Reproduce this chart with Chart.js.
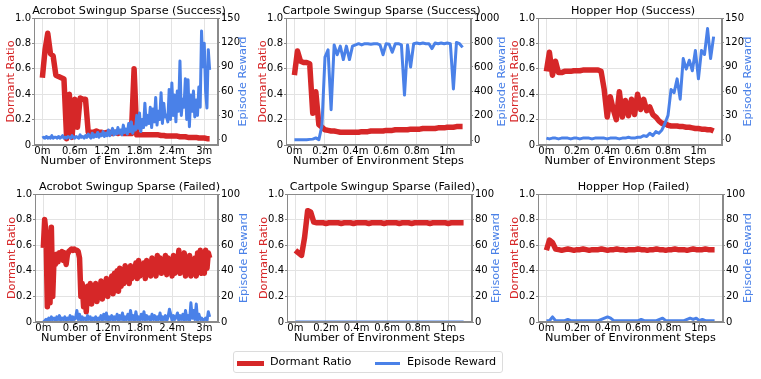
<!DOCTYPE html>
<html>
<head>
<meta charset="utf-8">
<script src="https://cdn.jsdelivr.net/npm/chart.js@4/dist/chart.umd.min.js"></script>
<style>
  body { margin: 0; background: #fff; width: 761px; height: 379px; position: relative; overflow: hidden; font-family: "DejaVu Sans", sans-serif; }
  canvas { position: absolute; }
  #legend { position: absolute; left: 233px; top: 351px; width: 268px; height: 20px; border: 1px solid #dcdcdc; border-radius: 3px; font-size: 11.2px; color: #000; }
  #legend .sw { position: absolute; top: 9px; height: 5px; }
  #legend .tx { position: absolute; top: 3px; white-space: nowrap; }
</style>
</head>
<body>
<canvas id="p1" width="258" height="171" style="left:0px;top:0px"></canvas>
<canvas id="p2" width="259" height="171" style="left:252px;top:0px"></canvas>
<canvas id="p3" width="258" height="171" style="left:504px;top:0px"></canvas>
<canvas id="p4" width="257" height="172" style="left:1px;top:176px"></canvas>
<canvas id="p5" width="259" height="172" style="left:253px;top:176px"></canvas>
<canvas id="p6" width="259" height="172" style="left:504px;top:176px"></canvas>
<div id="legend">
  <div class="sw" style="left:3px;width:27px;background:#d62728"></div>
  <div class="tx" style="left:36px">Dormant Ratio</div>
  <div class="sw" style="left:141px;width:25px;height:3px;top:10px;background:#4a81e8"></div>
  <div class="tx" style="left:173px">Episode Reward</div>
</div>
<script>
// sampling grids (millions of env steps)
const longSteps = Array.from({length: 63}, (_, i) => +(i * 0.05).toFixed(3));      // 0 .. 3.1
const longFineSteps = Array.from({length: 125}, (_, i) => +(i * 0.025).toFixed(3)); // 0 .. 3.1
const shortSteps = Array.from({length: 56}, (_, i) => +(i * 0.02).toFixed(3));     // 0 .. 1.1

const longTicks = [0, 0.6, 1.2, 1.8, 2.4, 3];
const longTickLabels = ['0m', '0.6m', '1.2m', '1.8m', '2.4m', '3m'];
const shortTicks = [0, 0.2, 0.4, 0.6, 0.8, 1];
const shortTickLabels = ['0m', '0.2m', '0.4m', '0.6m', '0.8m', '1m'];

const ratioTicks = [0, 0.2, 0.4, 0.6, 0.8, 1.0];
const ratioTickLabels = ['0', '0.2', '0.4', '0.6', '0.8', '1.0'];
const reward150Ticks = [0, 30, 60, 90, 120, 150];
const reward1000Ticks = [0, 200, 400, 600, 800, 1000];
const reward100Ticks = [0, 20, 40, 60, 80, 100];

// Acrobot Swingup Sparse (Success) - ratio on longSteps, reward on longFineSteps
const acroSuccessRatio = [
  0.53, 0.75, 0.88, 0.72, 0.70, 0.55, 0.54, 0.53, 0.52, 0.05, 0.40, 0.06, 0.36, 0.14, 0.37, 0.36, 0.36, 0.10, 0.10,
  0.10, 0.11, 0.10, 0.10, 0.09, 0.10, 0.10, 0.09, 0.10, 0.09, 0.10, 0.09, 0.09, 0.09, 0.09,
  0.60, 0.08,
  0.08, 0.08, 0.08, 0.08, 0.08, 0.08, 0.08, 0.08, 0.075, 0.075, 0.07, 0.07, 0.07, 0.07, 0.07,
  0.065, 0.065, 0.065, 0.06, 0.06, 0.06, 0.06, 0.055, 0.055, 0.055, 0.05, 0.05
];
const acroSuccessReward = [
  2, 3, 2, 4, 2, 3, 2, 5, 2, 3, 3, 2, 4, 2, 3, 5, 2, 3, 2, 4, 3, 2, 5, 3, 2, 4, 3, 2, 6, 3, 4, 2, 5,
  3, 7, 4, 2, 8, 3, 6, 4, 9, 3, 7, 5, 10, 4, 8, 5,
  12, 5, 9, 14, 6, 11, 7, 15, 8, 12, 6, 18, 9, 13, 7, 20,
  10, 22, 8, 16, 12, 30, 14, 33, 10, 25, 15, 45, 18, 30, 20, 40,
  15, 38, 22, 52, 18, 35, 25, 58, 20, 45, 28, 30, 22, 62, 25, 70,
  30, 55, 22, 60, 35, 97, 30, 50, 40, 75, 25, 74, 16, 55, 35, 60,
  28, 49, 30, 65, 40, 134, 90, 119, 60, 39, 111, 86
];

// Cartpole Swingup Sparse (Success)
const cartSuccessRatio = [
  0.55, 0.74, 0.66, 0.65, 0.65, 0.64, 0.25, 0.42, 0.16, 0.14, 0.12, 0.115, 0.11,
  0.11, 0.105, 0.10, 0.10, 0.10, 0.10, 0.10, 0.10, 0.10, 0.105, 0.105, 0.105,
  0.11, 0.11, 0.11, 0.11, 0.11, 0.115, 0.115, 0.115, 0.12, 0.12, 0.12, 0.12, 0.12,
  0.125, 0.125, 0.125, 0.125, 0.13, 0.13, 0.13, 0.13, 0.13, 0.135, 0.135, 0.135,
  0.14, 0.14, 0.14, 0.145, 0.145, 0.145
];
const cartSuccessReward = [
  5, 5, 5, 5, 5, 8, 10, 20, 5, 120,
  680, 740, 250, 780, 700, 770, 660, 770, 660, 770,
  780, 790, 780, 790, 790, 785, 790, 790, 780, 700,
  790, 785, 720, 790, 790, 780, 370, 780, 600, 790,
  795, 790, 795, 790, 790, 750, 795, 790, 795, 790,
  795, 790, 420, 800, 790, 760
];

// Hopper Hop (Success)
const hopperSuccessRatio = [
  0.58, 0.73, 0.55, 0.66, 0.57, 0.57, 0.58, 0.58,
  0.58, 0.585, 0.585, 0.585, 0.59, 0.59, 0.59, 0.59, 0.59, 0.59, 0.58,
  0.44, 0.22, 0.38, 0.28, 0.20, 0.42, 0.22, 0.35, 0.23, 0.36, 0.24,
  0.40, 0.28, 0.36, 0.27, 0.30, 0.24, 0.22, 0.19, 0.17, 0.17,
  0.155, 0.15, 0.15, 0.15, 0.145, 0.145, 0.14, 0.14, 0.135, 0.13,
  0.13, 0.125, 0.125, 0.12, 0.12, 0.11
];
const hopperSuccessReward = [
  2, 1, 2, 2, 1, 2, 2, 2, 1, 2, 2, 1, 2, 2, 2, 1, 2, 2, 2, 2, 1, 2, 2, 2, 1, 2, 2, 3, 2, 2, 3,
  3, 5, 4, 8, 5, 10, 8, 12, 20, 30,
  62, 58, 75, 50, 100, 87, 98, 85, 110, 75,
  110, 105, 137, 100, 127
];

// Acrobot Swingup Sparse (Failed) - both on longFineSteps
const acroFailRatio = [
  0.58, 0.80, 0.70, 0.12, 0.60, 0.15, 0.74, 0.20, 0.50, 0.45,
  0.53, 0.47, 0.54, 0.50, 0.55, 0.48, 0.54, 0.45, 0.53, 0.55,
  0.56, 0.57, 0.56, 0.57, 0.56, 0.56, 0.55, 0.50, 0.20, 0.30,
  0.12, 0.25, 0.08, 0.28, 0.15, 0.30, 0.14, 0.26, 0.18, 0.30,
  0.16, 0.28, 0.20, 0.32, 0.18, 0.30, 0.22, 0.34, 0.20, 0.32,
  0.24, 0.36, 0.22, 0.38, 0.26, 0.40, 0.24, 0.42, 0.28, 0.40,
  0.30, 0.44, 0.32, 0.42, 0.30, 0.44, 0.34, 0.42, 0.36, 0.46,
  0.34, 0.48, 0.36, 0.44, 0.38, 0.46, 0.34, 0.48, 0.38, 0.46,
  0.36, 0.50, 0.38, 0.48, 0.36, 0.52, 0.40, 0.50, 0.38, 0.48,
  0.40, 0.52, 0.37, 0.50, 0.40, 0.48, 0.36, 0.52, 0.38, 0.50,
  0.40, 0.56, 0.38, 0.52, 0.42, 0.54, 0.36, 0.48, 0.40, 0.52,
  0.36, 0.48, 0.38, 0.50, 0.36, 0.54, 0.40, 0.56, 0.38, 0.54,
  0.38, 0.56, 0.42, 0.54, 0.50
];
const acroFailReward = [
  0, 1, 2, 1, 3, 1, 4, 2, 3, 1, 4, 2, 5, 1, 3, 2, 4, 1, 3, 2, 5, 1, 4, 2, 3,
  9, 2, 6, 1, 4, 2, 3, 1, 5, 2, 4, 1, 3, 2, 4, 1, 3, 2, 5, 1, 6, 2, 7, 1, 4,
  2, 5, 1, 4, 2, 6, 1, 5, 2, 7, 1, 4, 2, 6, 1, 9, 2, 5, 1, 8, 2, 4, 1, 6, 2,
  8, 1, 5, 2, 4, 1, 6, 2, 5, 1, 4, 2, 7, 1, 4, 2, 5, 1, 4, 10, 6, 1, 5, 2, 4,
  7, 1, 5, 2, 6, 1, 9, 2, 5, 1, 15, 3, 9, 2, 14, 1, 6, 2, 3, 1, 2, 3, 1, 8, 4
];

// Cartpole Swingup Sparse (Failed)
const cartFailRatio = [
  0.56, 0.54, 0.52, 0.66, 0.87, 0.86, 0.78,
  0.775, 0.775, 0.775, 0.77, 0.775, 0.775, 0.775,
  0.775, 0.77, 0.775, 0.775, 0.775, 0.77, 0.775,
  0.775, 0.775, 0.775, 0.77, 0.775, 0.775, 0.775,
  0.775, 0.77, 0.775, 0.775, 0.775, 0.775, 0.77,
  0.775, 0.775, 0.775, 0.77, 0.775, 0.775, 0.775,
  0.775, 0.775, 0.77, 0.775, 0.775, 0.775, 0.775,
  0.775, 0.77, 0.775, 0.775, 0.775, 0.775, 0.775
];
const cartFailReward = [
  0, 0, 0, 0, 0, 0, 0, 0, 0, 0, 0, 0, 0, 0,
  0, 0, 0, 0, 0, 0, 0, 0, 0, 0, 0, 0, 0, 0,
  0, 0, 0, 0, 0, 0, 0, 0, 0, 0, 0, 0, 0, 0,
  0, 0, 0, 0, 0, 0, 0, 0, 0, 0, 0, 0, 0, 0
];

// Hopper Hop (Failed)
const hopperFailRatio = [
  0.56, 0.64, 0.62, 0.57,
  0.565, 0.56, 0.565, 0.57, 0.565, 0.56, 0.565, 0.565, 0.57, 0.565, 0.56, 0.565, 0.565,
  0.565, 0.57, 0.565, 0.56, 0.565, 0.565, 0.57, 0.565, 0.565, 0.56, 0.565, 0.565,
  0.565, 0.57, 0.565, 0.565, 0.56, 0.565, 0.565, 0.57, 0.565, 0.565, 0.56, 0.565,
  0.565, 0.57, 0.565, 0.565, 0.565, 0.56, 0.565, 0.57, 0.565, 0.565, 0.565, 0.57, 0.565, 0.565, 0.565
];
const hopperFailReward = [
  1, 1, 4, 1, 1, 1, 1, 2, 1, 1,
  1, 1, 1, 1, 1, 1, 1, 1, 2, 3,
  4, 3, 1, 1, 1, 1, 1, 1, 1, 1,
  1, 2, 1, 1, 1, 1, 1, 2, 3, 1,
  1, 1, 1, 1, 1, 1, 2, 3, 2, 3,
  1, 2, 1, 1, 1, 1
];

const RED = '#d62728';
const BLUE = '#4a81e8';
const GRID = '#e3e3e3';
const FRAME = '#8a8a8a';
const FONT = '"DejaVu Sans", sans-serif';

Chart.defaults.font.family = FONT;
Chart.defaults.color = '#000';

// frame around the plot + matplotlib-style right label (reads bottom to top)
const framePlugin = {
  id: 'frame',
  afterDraw(chart, args, opts) {
    const {ctx, chartArea: a} = chart;
    ctx.save();
    ctx.strokeStyle = FRAME;
    ctx.lineWidth = 1;
    ctx.strokeRect(Math.round(a.left) + 0.5, Math.round(a.top) + 0.5, Math.round(a.right - a.left) - 1, Math.round(a.bottom - a.top) - 1);
    ctx.translate(a.right + opts.gap, (a.top + a.bottom) / 2);
    ctx.rotate(-Math.PI / 2);
    ctx.fillStyle = BLUE;
    ctx.font = '11.3px ' + FONT;
    ctx.textAlign = 'center';
    ctx.textBaseline = 'middle';
    ctx.fillText('Episode Reward', 0, 0);
    ctx.restore();
  }
};

function drawPanel(id, p) {
  const toPts = (xs, ys) => xs.map((x, i) => ({x: x, y: ys[i]}));
  new Chart(document.getElementById(id), {
    type: 'line',
    data: {
      datasets: [
        {
          label: 'Episode Reward',
          data: toPts(p.rewardSteps, p.reward),
          yAxisID: 'y1',
          borderColor: BLUE,
          borderWidth: 3,
          pointRadius: 0,
          borderJoinStyle: 'round',
          order: 0
        },
        {
          label: 'Dormant Ratio',
          data: toPts(p.ratioSteps, p.ratio),
          yAxisID: 'y',
          borderColor: RED,
          borderWidth: 5.5,
          pointRadius: 0,
          borderJoinStyle: 'round',
          order: 1
        }
      ]
    },
    options: {
      responsive: false,
      animation: false,
      events: [],
      layout: {padding: 0},
      plugins: {
        legend: {display: false},
        tooltip: {enabled: false},
        title: {
          display: true,
          text: p.title,
          color: '#000',
          font: {size: 11.2, weight: 'normal', lineHeight: 1},
          padding: {top: 5.9, bottom: 0.9}
        },
        frame: {gap: p.rightGap}
      },
      scales: {
        x: {
          type: 'linear',
          min: p.xMin,
          max: p.xMax,
          afterBuildTicks: s => { s.ticks = p.xTicks.map(v => ({value: v})); },
          afterFit: s => { s.height = 26; },
          ticks: {
            callback: (v, i) => p.xLabels[i],
            font: {size: 10},
            color: '#000',
            padding: -2.5,
            maxRotation: 0,
            autoSkip: false
          },
          grid: {color: GRID, tickLength: 3, tickColor: FRAME},
          border: {color: FRAME},
          title: {
            display: true,
            text: 'Number of Environment Steps',
            color: '#000',
            font: {size: 11.3},
            padding: {top: 0, bottom: 2.7}
          }
        },
        y: {
          position: 'left',
          min: 0,
          max: 1,
          afterBuildTicks: s => { s.ticks = ratioTicks.map(v => ({value: v})); },
          afterFit: s => { s.width = 34; },
          ticks: {
            callback: (v, i) => ratioTickLabels[i],
            font: {size: 10},
            color: '#000',
            padding: 1
          },
          grid: {color: GRID, tickLength: 2, tickColor: FRAME},
          border: {color: FRAME},
          title: {
            display: true,
            text: 'Dormant Ratio',
            color: RED,
            font: {size: 11.3},
            padding: {top: 4.3, bottom: 0}
          }
        },
        y1: {
          position: 'right',
          min: p.rMin,
          max: p.rMax,
          afterBuildTicks: s => { s.ticks = p.rTicks.map(v => ({value: v})); },
          afterFit: s => { s.width = 40; },
          ticks: {
            callback: v => String(v),
            font: {size: 10},
            color: '#000',
            padding: 1
          },
          grid: {drawOnChartArea: false, tickLength: 2, tickColor: FRAME},
          border: {color: FRAME}
        }
      }
    },
    plugins: [framePlugin]
  });
}

const longX = {xMin: -0.155, xMax: 3.255, xTicks: longTicks, xLabels: longTickLabels};
const shortX = {ratioSteps: shortSteps, rewardSteps: shortSteps, xMin: -0.055, xMax: 1.155, xTicks: shortTicks, xLabels: shortTickLabels};

drawPanel('p1', Object.assign({}, longX, {title: 'Acrobot Swingup Sparse (Success)', ratioSteps: longSteps, rewardSteps: longFineSteps,
  ratio: acroSuccessRatio, reward: acroSuccessReward, rMin: -6.5, rMax: 150, rTicks: reward150Ticks, rightGap: 25}));
drawPanel('p2', Object.assign({}, shortX, {title: 'Cartpole Swingup Sparse (Success)', ratio: cartSuccessRatio, reward: cartSuccessReward,
  rMin: -38, rMax: 1000, rTicks: reward1000Ticks, rightGap: 31}));
drawPanel('p3', Object.assign({}, shortX, {title: 'Hopper Hop (Success)', ratio: hopperSuccessRatio, reward: hopperSuccessReward,
  rMin: -6.5, rMax: 150, rTicks: reward150Ticks, rightGap: 26}));
drawPanel('p4', Object.assign({}, longX, {title: 'Acrobot Swingup Sparse (Failed)', ratioSteps: longFineSteps, rewardSteps: longFineSteps,
  ratio: acroFailRatio, reward: acroFailReward, rMin: 0, rMax: 100, rTicks: reward100Ticks, rightGap: 26}));
drawPanel('p5', Object.assign({}, shortX, {title: 'Cartpole Swingup Sparse (Failed)', ratio: cartFailRatio, reward: cartFailReward,
  rMin: 0, rMax: 100, rTicks: reward100Ticks, rightGap: 24}));
drawPanel('p6', Object.assign({}, shortX, {title: 'Hopper Hop (Failed)', ratio: hopperFailRatio, reward: hopperFailReward,
  rMin: 0, rMax: 100, rTicks: reward100Ticks, rightGap: 25}));
</script>
</body>
</html>
